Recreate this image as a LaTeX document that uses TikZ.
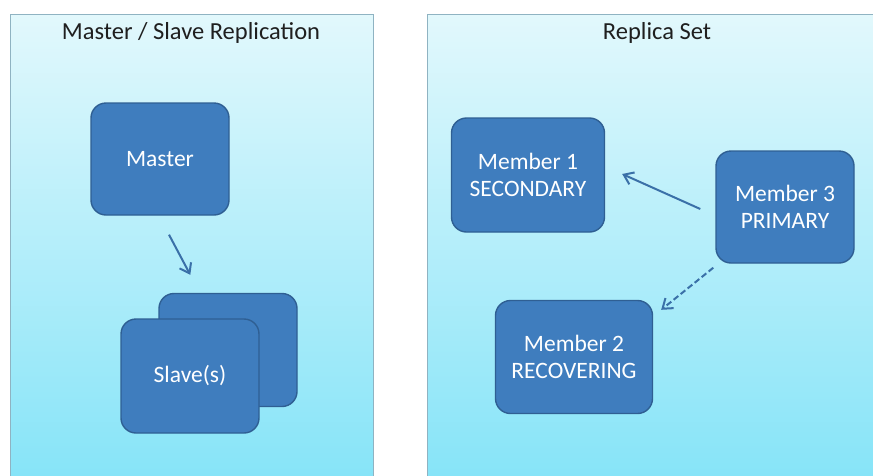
\documentclass[tikz,border=0pt]{standalone}
\usepackage{fontspec}
\setmainfont{Carlito}
\usetikzlibrary{arrows.meta,calc}
\definecolor{boxfill}{HTML}{3F7DBE}
\definecolor{boxedge}{HTML}{2F5F93}
\definecolor{arrowcol}{HTML}{3A70A8}
\definecolor{paneltop}{HTML}{E2F8FC}
\definecolor{panelbot}{HTML}{86E4F8}
\definecolor{paneledge}{HTML}{8FB3C2}
\tikzset{
  panel/.style={draw=paneledge, line width=1pt, top color=paneltop, bottom color=panelbot},
  member/.style={draw=boxedge, line width=1.4pt, fill=boxfill, rounded corners=15pt,
    text=white, font=\fontsize{23.5}{27.5}\selectfont, align=center, inner sep=0pt},
  title/.style={font=\fontsize{24.5}{28}\selectfont, text=black!88},
  link/.style={draw=arrowcol, line width=2pt, -{Straight Barb[length=9pt,width=13pt,line width=2pt]}},
}
\begin{document}
\begin{tikzpicture}[x=1pt,y=-1pt]
\useasboundingbox (0,0) rectangle (873,475);
\fill[white] (0,0) rectangle (873,475);
% the two panels
\path[panel] (10,14) rectangle (373,480);
\path[panel] (427,14) rectangle (880,480);
\node[title] (t1) at (191,33) {Master / Slave Replication};
\node[title] (t2) at (657,33) {Replica Set};
% master / slave side
\node[member, minimum width=138pt, minimum height=112pt] (master) at (160,159) {Master};
\node[member, minimum width=138pt, minimum height=113pt] (slaveback) at (228,350) {};
\node[member, minimum width=138pt, minimum height=114pt] (slave) at (190,376) {Slave(s)};
\draw[link] ($(master.south)+(9,19)$) -- ($(slaveback.north west)+(32,-18)$);
% replica set side
\node[member, minimum width=153pt, minimum height=114pt] (m1) at (528,175) {Member 1\\SECONDARY};
\node[member, minimum width=138pt, minimum height=112pt] (m3) at (785,207) {Member 3\\PRIMARY};
\node[member, minimum width=157pt, minimum height=113pt] (m2) at (574,357) {Member 2\\RECOVERING};
\draw[link] ($(m3.west)+(-15,2)$) -- ($(m1.east)+(17,-1)$);
\draw[link, dashed, dash pattern=on 6pt off 3pt] ($(m3.south west)+(-2,4)$) -- ($(m2.north east)+(8,10)$);
\end{tikzpicture}
\end{document}
